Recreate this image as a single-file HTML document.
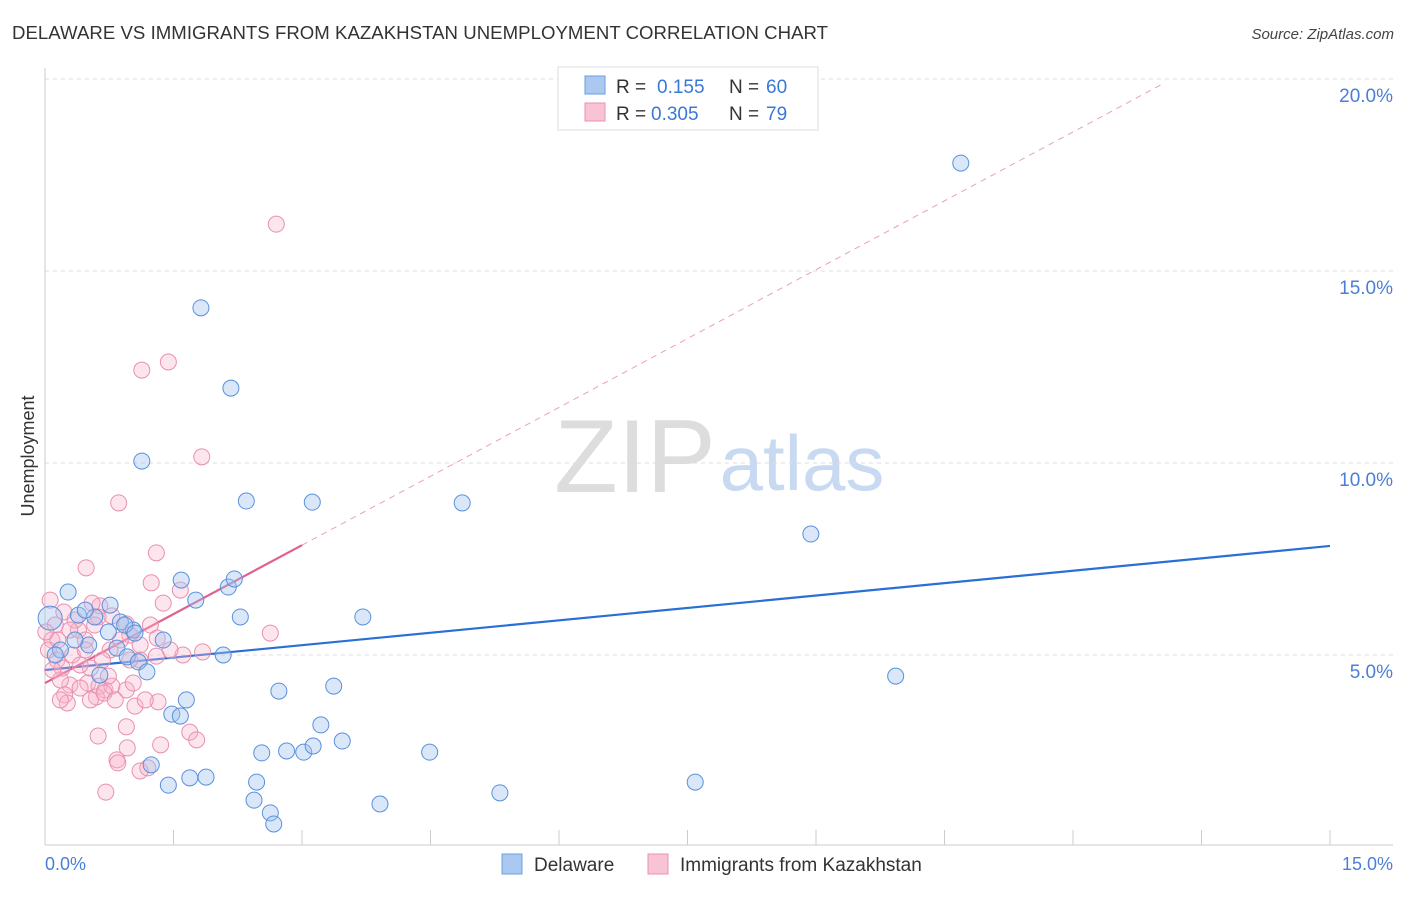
<!DOCTYPE html>
<html><head><meta charset="utf-8"><style>
body{margin:0;background:#fff;font-family:"Liberation Sans",sans-serif;}
svg text{font-family:"Liberation Sans",sans-serif;}
</style></head><body>
<svg id="chart" width="1406" height="892" xmlns="http://www.w3.org/2000/svg">
<text x="12" y="39" font-size="18.6" fill="#333" textLength="816">DELAWARE VS IMMIGRANTS FROM KAZAKHSTAN UNEMPLOYMENT CORRELATION CHART</text>
<text x="1394" y="39" font-size="15" fill="#444" text-anchor="end" font-style="italic">Source: ZipAtlas.com</text>
<g>
<text x="635" y="492" font-size="104" fill="#ddd" text-anchor="middle" font-family="Liberation Serif,serif">ZIP</text>
<text x="802" y="490" font-size="78" fill="#c8daf2" text-anchor="middle">atlas</text></g>
<g id="grid"></g><g id="axes"></g><g id="trends"></g><g id="points"></g>
<text transform="translate(34,456) rotate(-90)" font-size="18" fill="#333" text-anchor="middle">Unemployment</text>
<text x="45" y="870" font-size="18" fill="#4a7fd6">0.0%</text>
<text x="1393" y="870" font-size="18" fill="#4a7fd6" text-anchor="end">15.0%</text>
<g>
<rect x="558" y="67" width="260" height="63" fill="#fff" stroke="#ddd"/>
<rect x="585" y="76" width="20" height="18" fill="#aac8f0" stroke="#6a9ee0"/>
<text x="616" y="93" font-size="19" fill="#333">R =</text><text x="657" y="93" font-size="19" fill="#3a78d8">0.155</text>
<text x="729" y="93" font-size="19" fill="#333">N =</text><text x="766" y="93" font-size="19" fill="#3a78d8">60</text>
<rect x="585" y="103" width="20" height="18" fill="#f8c4d4" stroke="#e890b0"/>
<text x="616" y="120" font-size="19" fill="#333">R =</text><text x="651" y="120" font-size="19" fill="#3a78d8">0.305</text>
<text x="729" y="120" font-size="19" fill="#333">N =</text><text x="766" y="120" font-size="19" fill="#3a78d8">79</text></g>
<g>
<rect x="502" y="854" width="20" height="20" fill="#aac8f0" stroke="#6a9ee0"/>
<text x="534" y="871" font-size="19" fill="#333">Delaware</text>
<rect x="648" y="854" width="20" height="20" fill="#f8c4d4" stroke="#e890b0"/>
<text x="680" y="871" font-size="19" fill="#333">Immigrants from Kazakhstan</text></g>
</svg>
<script>
const yTicks=[5,10,15,20];
const xTicks=[0,1.5,3,4.5,6,7.5,9,10.5,12,13.5,15];
const blueX=[0.06,0.27,0.39,0.51,0.58,0.64,0.74,0.84,0.88,0.96,1.03,1.09,1.19,1.38,1.13,1.82,2.17,2.35,3.12,4.87,8.94,10.69,1.59,1.76,2.14,2.21,2.28,2.08,1.65,1.48,1.58,2.73,3.37,3.71,3.22,2.53,2.82,3.02,3.13,3.47,4.49,1.24,1.44,1.69,1.88,2.47,2.44,2.63,2.67,3.91,5.31,7.59,9.93,0.18,0.12,0.35,0.47,0.76,0.93,1.05];
const blueY=[5.96,6.64,6.04,5.26,5.99,4.48,5.60,5.18,5.86,4.95,5.65,4.82,4.56,5.39,10.05,14.04,11.95,9.01,8.98,8.96,8.15,17.81,6.95,6.43,6.77,6.98,5.99,5.00,3.83,3.46,3.41,4.06,4.19,5.99,3.18,2.45,2.50,2.47,2.63,2.76,2.47,2.14,1.61,1.80,1.82,1.69,1.22,0.89,0.60,1.12,1.41,1.69,4.45,5.13,5.00,5.39,6.17,6.30,5.78,5.57];
const pinkX=[2.70,1.44,1.13,1.83,0.86,1.30,0.48,1.24,1.58,1.38,0.64,0.62,0.78,0.95,1.23,0.99,1.31,2.63,1.84,1.61,1.46,1.30,0.06,0.12,0.08,0.04,0.14,0.20,0.32,0.39,0.47,0.53,0.50,0.63,0.70,0.78,0.74,0.95,1.03,0.29,0.23,0.26,0.41,0.60,0.69,1.05,1.32,1.69,1.77,0.95,1.35,0.96,0.84,0.85,1.11,1.20,0.62,0.71,0.18,0.01,0.09,0.35,0.47,0.58,0.76,0.88,1.11,0.15,0.22,0.55,0.67,0.41,0.29,1.11,1.17,0.82,0.99,0.53,0.18];
const pinkY=[16.22,12.63,12.42,10.16,8.96,7.66,7.27,6.88,6.69,6.35,6.28,5.99,6.02,5.81,5.78,5.52,5.44,5.57,5.08,5.00,5.13,4.97,6.43,5.78,5.39,5.13,4.87,4.66,5.00,5.65,5.39,4.66,4.27,4.19,4.09,4.19,4.45,4.09,4.27,4.22,3.96,3.75,4.14,3.91,4.01,3.67,3.78,2.99,2.79,3.13,2.66,2.58,2.27,2.19,1.98,2.06,2.89,1.43,4.35,5.60,4.61,5.91,5.13,5.78,5.13,5.39,5.26,5.39,6.12,6.35,4.87,4.74,5.65,4.87,3.83,3.83,4.87,3.83,3.83];
const blueTrend=[[0,4.61],[15,7.84]];
const pinkTrend=[[0,4.27],[3.0,7.86]];
const pinkDash=[[3.0,7.86],[13.07,19.9]];
const NS='http://www.w3.org/2000/svg';
const X=v=>45+v*(1285/15), Y=v=>847-v*38.4;
function mk(tag,attrs,parent){const e=document.createElementNS(NS,tag);for(const k in attrs)e.setAttribute(k,attrs[k]);document.getElementById(parent).appendChild(e);return e;}
yTicks.forEach(t=>{
 const l=mk('line',{x1:45,x2:1393,y1:Y(t),y2:Y(t),stroke:'#ddd','stroke-dasharray':'4,4'},'grid');
 
 
 const tx=mk('text',{x:1393,y:Y(t)+23,'font-size':19,fill:'#4a7fd6','text-anchor':'end'},'grid');
 tx.textContent=t.toFixed(1)+'%';
 
 
});
const ax=mk('line',{x1:45,x2:1393,y1:845,y2:845,stroke:'#ccc'},'axes');


const ay=mk('line',{x1:45,x2:45,y1:68,y2:845,stroke:'#ccc'},'axes');


xTicks.forEach(t=>{
 const l=mk('line',{x1:X(t),x2:X(t),y1:830,y2:845,stroke:'#ccc'},'axes');
 
 
});
function line(p,col,w,dash,name){
 const l=mk('line',{x1:X(p[0][0]),y1:Y(p[0][1]),x2:X(p[1][0]),y2:Y(p[1][1]),stroke:col,'stroke-width':w},'trends');
 if(dash)l.setAttribute('stroke-dasharray',dash);
 
 
}
line(pinkDash,'#eaa0b8',1,'6,5','kazakhstan-trend-extension');
line(blueTrend,'#2a6fd6',2.2,null,'delaware-trend-line');
line(pinkTrend,'#e06090',2.2,null,'kazakhstan-trend-line');
pinkX.forEach((x,i)=>{
 const c=mk('circle',{cx:X(x),cy:Y(pinkY[i]),r:8,fill:'rgba(248,180,204,0.35)',stroke:'#e890b0','stroke-width':1},'points');
 
 
});
blueX.forEach((x,i)=>{
 const c=mk('circle',{cx:X(x),cy:Y(blueY[i]),r:i==0?12:8,fill:'rgba(160,196,240,0.4)',stroke:'#5a90dc','stroke-width':1},'points');
 
 
});
</script>
</body></html>
